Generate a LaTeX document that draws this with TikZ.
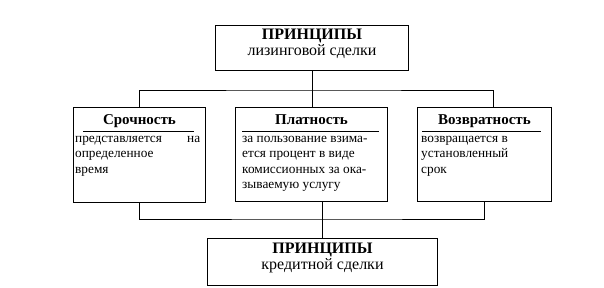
\documentclass[tikz,border=0pt]{standalone}
\usepackage{fontspec}
\setmainfont{Liberation Serif}
\usetikzlibrary{positioning}

\begin{document}
\begin{tikzpicture}[x=1pt, y=1pt,
    box/.style={draw, line width=1pt, inner sep=0pt, anchor=north west},
    head/.style={inner sep=0pt, font=\fontsize{15}{17}\selectfont\bfseries},
    body/.style={inner sep=0pt, anchor=north west, align=justify,
        font=\fontsize{13.3}{15.3}\selectfont},
    title/.style={inner sep=0pt, align=center},
    link/.style={line width=0.8pt},
    rule/.style={line width=0.8pt}]
    \useasboundingbox (0,0) rectangle (604,-288);

    % Draw nodes
    \node[box, minimum width=193pt, minimum height=45pt] (top) at (215,-25) {};
    \node[title, below=4pt of top.north] (toptext)
        {{\fontsize{16}{18}\selectfont\bfseries ПРИНЦИПЫ}\\
         {\fontsize{16}{17}\selectfont лизинговой сделки}};

    \node[box, minimum width=132pt, minimum height=95pt] (srok) at (73,-107) {};
    \node[box, minimum width=152pt, minimum height=94pt] (plata) at (235,-107) {};
    \node[box, minimum width=134pt, minimum height=94pt] (vozvr) at (417,-107) {};

    \node[head, below=7pt of srok.north] (srokhead) {Срочность};
    \node[head, below=7pt of plata.north] (platahead) {Платность};
    \node[head, below=7pt of vozvr.north] (vozvrhead) {Возвратность};

    \node[body, text width=125pt] (sroktext) at ([xshift=2pt,yshift=-29pt]srok.north west)
        {представляется\hfill на\\определенное\\время};
    \node[body, text width=142pt] (platatext) at ([xshift=7pt,yshift=-29pt]plata.north west)
        {за пользование взима-\\ется процент в виде\\комиссионных за ока-\\зываемую услугу};
    \node[body, text width=126pt] (vozvrtext) at ([xshift=4pt,yshift=-29pt]vozvr.north west)
        {возвращается в\\установленный\\срок};

    \node[box, minimum width=230pt, minimum height=47pt] (bot) at (207,-238) {};
    \node[title, below=5pt of bot.north] (bottext)
        {{\fontsize{16}{18}\selectfont\bfseries ПРИНЦИПЫ}\\
         {\fontsize{16}{17}\selectfont кредитной сделки}};

    % Rules under the headings
    \draw[rule] ([xshift=10pt,yshift=-24pt]srok.north west) -- ([xshift=-12pt,yshift=-24pt]srok.north east);
    \draw[rule] ([xshift=7pt,yshift=-24pt]plata.north west) -- ([xshift=-9pt,yshift=-24pt]plata.north east);
    \draw[rule] ([xshift=5pt,yshift=-24pt]vozvr.north west) -- ([xshift=-11pt,yshift=-24pt]vozvr.north east);

    % Draw connections
    \coordinate (bustop) at (311,-90);
    \coordinate (busbot) at (322,-219);
    \draw[link] (top.south) -- (top.south |- plata.north);
    \draw[link] (srok.north) |- (bustop) -| ([xshift=9pt]vozvr.north);
    \draw[link] (srok.south) |- (busbot) -| (vozvr.south);
    \draw[link] (bot.north) -- (bot.north |- plata.south);
\end{tikzpicture}
\end{document}
